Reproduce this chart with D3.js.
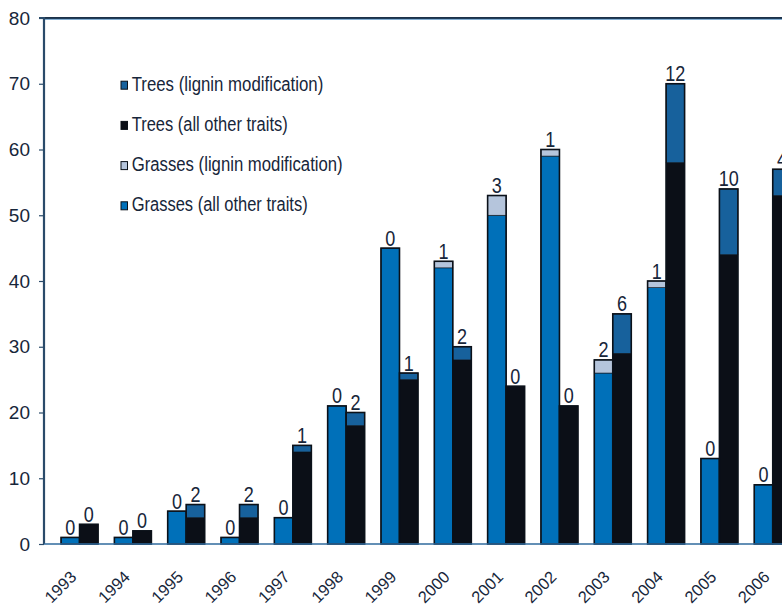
<!DOCTYPE html>
<html>
<head>
<meta charset="utf-8">
<script src="https://cdn.jsdelivr.net/npm/d3@7"></script>
<style>
html,body{margin:0;padding:0;background:#fff;overflow:hidden;}
svg{display:block;font-family:"Liberation Sans",Arial,sans-serif;}
</style>
</head>
<body>
<svg id="chart" width="782" height="610"></svg>
<script>
const years = ["1993","1994","1995","1996","1997","1998","1999","2000","2001","2002","2003","2004","2005","2006"];
const grassOther  = [1, 1, 5, 1, 4, 21, 45, 42, 50, 59, 26, 39, 13, 9];
const grassLignin = [0, 0, 0, 0, 0, 0, 0, 1, 3, 1, 2, 1, 0, 0];
const treeOther   = [3, 2, 4, 4, 14, 18, 25, 28, 24, 21, 29, 58, 44, 53];
const treeLignin  = [0, 0, 2, 2, 1, 2, 1, 2, 0, 0, 6, 12, 10, 4];
const yTicks = [0, 10, 20, 30, 40, 50, 60, 70, 80];
const legendLabels = ["Trees (lignin modification)", "Trees (all other traits)", "Grasses (lignin modification)", "Grasses (all other traits)"];

const C = {
  grassOther: "#0070B9",
  grassLignin: "#B5C5DC",
  treeOther: "#0B0F17",
  treeLignin: "#17619C",
  outline: "#0B1119",
  text: "#17263A"
};
const legendColors = [C.treeLignin, C.treeOther, C.grassLignin, C.grassOther];

const svg = d3.select("#chart");
const mLeft = 44, mTop = 18, mBottom = 544, rightEdge = 800;

const x = d3.scaleBand().domain(years).range([52.9, 799.4]).paddingInner(0.306).paddingOuter(0.153);
const xs = d3.scaleBand().domain(["grass","tree"]).range([0, x.bandwidth()]);
const y = d3.scaleLinear().domain([0, 80]).range([mBottom, mTop]);

// frame top line
svg.append("line").attr("x1", mLeft - 2).attr("x2", rightEdge).attr("y1", mTop).attr("y2", mTop)
  .attr("stroke", "#1C3148").attr("stroke-width", 2);
svg.append("line").attr("x1", mLeft).attr("x2", rightEdge).attr("y1", mTop + 1.3).attr("y2", mTop + 1.3)
  .attr("stroke", "#3C7DB8").attr("stroke-width", 0.8);

// bars
const data = years.map((yr, i) => ({
  yr,
  grass: [{v0: 0, v1: grassOther[i], c: C.grassOther}, {v0: grassOther[i], v1: grassOther[i] + grassLignin[i], c: C.grassLignin}],
  tree: [{v0: 0, v1: treeOther[i], c: C.treeOther}, {v0: treeOther[i], v1: treeOther[i] + treeLignin[i], c: C.treeLignin}],
  gLab: grassLignin[i], tLab: treeLignin[i]
}));

const g = svg.append("g");
data.forEach(d => {
  ["grass","tree"].forEach(k => {
    const bx = x(d.yr) + xs(k);
    const bw = xs.bandwidth();
    const segs = d[k];
    const total = segs[1].v1;
    segs.forEach(s => {
      if (s.v1 > s.v0) {
        g.append("rect").attr("x", bx).attr("width", bw)
          .attr("y", y(s.v1)).attr("height", y(s.v0) - y(s.v1))
          .attr("fill", s.c).attr("stroke", C.outline).attr("stroke-width", 0.6);
      }
    });
    g.append("rect").attr("x", bx).attr("width", bw)
      .attr("y", y(total)).attr("height", y(0) - y(total))
      .attr("fill", "none").attr("stroke", C.outline).attr("stroke-width", 1.6);
    const lab = k === "grass" ? d.gLab : d.tLab;
    g.append("text")
      .attr("transform", `translate(${bx + bw / 2},${y(total) - 2.5}) scale(0.82,1)`)
      .attr("text-anchor", "middle").attr("font-size", 22).attr("fill", C.text)
      .text(lab);
  });
});

// y axis
const yAxis = d3.axisLeft(y).tickValues(yTicks).tickSize(5).tickPadding(9).tickFormat(d3.format("d"));
const ya = svg.append("g").attr("transform", `translate(${mLeft},0)`).call(yAxis);
ya.select(".domain").attr("stroke", "#2A4B6A").attr("stroke-width", 2.2).attr("d", `M-5,${mTop}H0V${mBottom}`);
ya.selectAll(".tick line").attr("stroke", "#2A4B6A").attr("stroke-width", 1.2);
ya.selectAll(".tick text").attr("font-size", 19).attr("fill", C.text)
  .attr("font-family", "Liberation Sans, Arial, sans-serif");

// x axis
const xAxis = d3.axisBottom(x).tickSize(0).tickPadding(0);
const xa = svg.append("g").attr("transform", `translate(0,${mBottom})`).call(xAxis);
xa.select(".domain").attr("stroke", "#2F6A9C").attr("stroke-width", 1.6).attr("d", `M${mLeft},0H${rightEdge}`);
xa.selectAll(".tick text")
  .attr("font-size", 16.5).attr("fill", C.text).attr("font-family", "Liberation Sans, Arial, sans-serif")
  .attr("text-anchor", "end")
  .attr("dy", 0)
  .attr("transform", "translate(-2,34) rotate(-45)")
  .attr("y", 0).attr("x", 0);

// legend
const legendW = [191.6, 156, 211, 176];
const lg = svg.append("g");
legendLabels.forEach((t, i) => {
  const by = 90.7 + i * 40.2;
  lg.append("rect").attr("x", 121).attr("y", by - 9.5).attr("width", 6.5).attr("height", 8)
    .attr("fill", legendColors[i]).attr("stroke", C.outline).attr("stroke-width", 1);
  lg.append("text").attr("x", 131.7).attr("y", by).attr("font-size", 19.5).attr("fill", C.text)
    .attr("textLength", legendW[i]).attr("lengthAdjust", "spacingAndGlyphs").text(t);
});
</script>
</body>
</html>
